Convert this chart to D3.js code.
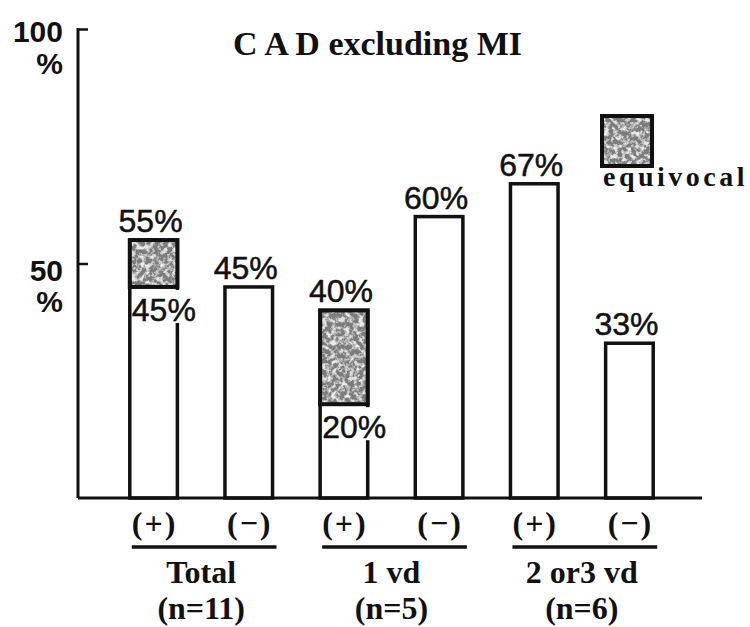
<!DOCTYPE html>
<html>
<head>
<meta charset="utf-8">
<script src="https://cdn.jsdelivr.net/npm/d3@7"></script>
<style>
body { margin: 0; background: #fff; }
svg { display: block; }
.pct { font-family: "Liberation Sans", Arial, sans-serif; font-size: 32px; fill: #111; stroke: #111; stroke-width: 0.5px; }
.serif { font-family: "Liberation Serif", "DejaVu Serif", serif; font-weight: bold; fill: #111; }
</style>
</head>
<body>
<script>
// data
var groups = ["Total", "1 vd", "2 or3 vd"];
var groupN = ["(n=11)", "(n=5)", "(n=6)"];
var signs = ["(+)", "(\u2212)"];
var positive = [45, 20, 67];   // (+) firm part
var equivocal = [10, 20, 0];   // (+) equivocal part on top
var negative = [45, 60, 33];   // (-)
var yTicks = [50, 100];

var width = 750, height = 627;
var svg = d3.select("body").append("svg").attr("width", width).attr("height", height);

// speckled fill for equivocal
var defs = svg.append("defs");
var filt = defs.append("filter").attr("id", "grain").attr("x", 0).attr("y", 0).attr("width", 1).attr("height", 1);
filt.append("feTurbulence").attr("type", "fractalNoise").attr("baseFrequency", 0.22).attr("numOctaves", 3).attr("seed", 7).attr("result", "n");
filt.append("feColorMatrix").attr("in", "n").attr("type", "matrix")
    .attr("values", "0 0 0 0 0.2  0 0 0 0 0.2  0 0 0 0 0.2  -3.5 0 0 0 2.5")
    .attr("result", "dark");
filt.append("feFlood").attr("flood-color", "#ececec").attr("result", "bg");
filt.append("feComposite").attr("in", "dark").attr("in2", "bg").attr("operator", "over");

var bars = [];
groups.forEach(function(g, i){
    bars.push({key: g + "+", group: i, sign: 0, base: positive[i], eq: equivocal[i]});
    bars.push({key: g + "-", group: i, sign: 1, base: negative[i], eq: 0});
});

var x = d3.scaleBand().domain(bars.map(function(d){return d.key;}))
    .range([106, 677]).paddingInner(0.5).paddingOuter(0.25);
var y = d3.scaleLinear().domain([0, 100]).range([498, 29]);
var x0 = 78, bw = x.bandwidth();

// y axis
var yAxis = d3.axisLeft(y).tickValues(yTicks).tickSizeInner(-10).tickSizeOuter(0).tickFormat("");
var gY = svg.append("g").attr("transform", "translate(" + x0 + ",0)").call(yAxis);
gY.select(".domain").remove();
gY.selectAll(".tick line").attr("stroke", "#111").attr("stroke-width", 2.5);
svg.append("line").attr("x1", x0).attr("x2", x0).attr("y1", y(100) - 1).attr("y2", y(0))
    .attr("stroke", "#111").attr("stroke-width", 3);

var tickLab = svg.append("g").selectAll("text").data(yTicks).enter().append("text")
    .attr("class", "pct").attr("text-anchor", "end").style("font-size", "30px").style("font-weight", "bold")
    .style("stroke-width", "0px");
tickLab.append("tspan").attr("x", 63).attr("y", function(d){return y(d) + (d == 100 ? 13 : 17);}).text(function(d){return d;});
tickLab.append("tspan").attr("x", 63).attr("y", function(d){return y(d) + (d == 100 ? 45 : 48);}).text("%");

// bars
var gBars = svg.append("g");
gBars.selectAll("rect.main").data(bars).enter().append("rect")
    .attr("class", "main")
    .attr("x", function(d){return x(d.key);})
    .attr("y", function(d){return y(d.base + d.eq);})
    .attr("width", bw)
    .attr("height", function(d){return y(0) - y(d.base + d.eq);})
    .attr("fill", "#fff").attr("stroke", "#111").attr("stroke-width", 3.5);

var eqBars = bars.filter(function(d){return d.eq > 0;});
gBars.selectAll("rect.eq").data(eqBars).enter().append("rect")
    .attr("class", "eq")
    .attr("x", function(d){return x(d.key);})
    .attr("y", function(d){return y(d.base + d.eq);})
    .attr("width", bw)
    .attr("height", function(d){return y(d.base) - y(d.base + d.eq);})
    .attr("fill", "#666").attr("filter", "url(#grain)");
gBars.selectAll("rect.eqb").data(eqBars).enter().append("rect")
    .attr("class", "eqb")
    .attr("x", function(d){return x(d.key);})
    .attr("y", function(d){return y(d.base + d.eq);})
    .attr("width", bw)
    .attr("height", function(d){return y(d.base) - y(d.base + d.eq);})
    .attr("fill", "none").attr("stroke", "#111").attr("stroke-width", 4);

// top labels
svg.append("g").selectAll("text").data(bars).enter().append("text")
    .attr("class", "pct").attr("text-anchor", "middle")
    .attr("x", function(d){return x(d.key) + bw / 2 - 3;})
    .attr("y", function(d){return y(d.base + d.eq) - 8;})
    .text(function(d){return (d.base + d.eq) + "%";});

// inner labels under equivocal part, on white so they cut the right edge
var inner = svg.append("g").selectAll("g").data(eqBars).enter().append("g");
inner.append("rect")
    .attr("x", function(d){return x(d.key) + 3;})
    .attr("y", function(d){return y(d.base) + 3;})
    .attr("width", 66).attr("height", 33).attr("fill", "#fff");
inner.append("text").attr("class", "pct")
    .attr("x", function(d){return x(d.key) + 2;})
    .attr("y", function(d){return y(d.base) + 34;})
    .text(function(d){return d.base + "%";});

// baseline
svg.append("line").attr("x1", x0).attr("x2", 702).attr("y1", y(0)).attr("y2", y(0))
    .attr("stroke", "#111").attr("stroke-width", 3);

// sign labels
svg.append("g").selectAll("text").data(bars).enter().append("text")
    .attr("class", "serif").attr("text-anchor", "middle").style("font-size", "32px")
    .style("letter-spacing", "2px")
    .attr("x", function(d){return x(d.key) + bw / 2 + 1;})
    .attr("y", 534)
    .text(function(d){return signs[d.sign];});

// group underline + names
var gg = svg.append("g").selectAll("g").data(groups).enter().append("g");
gg.append("line")
    .attr("x1", function(d, i){return x(bars[2 * i].key) + 2;})
    .attr("x2", function(d, i){return x(bars[2 * i + 1].key) + bw + 4;})
    .attr("y1", 547).attr("y2", 547)
    .attr("stroke", "#111").attr("stroke-width", 3.5);
function gMid(i){ return (x(bars[2 * i].key) + x(bars[2 * i + 1].key) + bw) / 2; }
gg.append("text").attr("class", "serif").attr("text-anchor", "middle").style("font-size", "32px")
    .attr("x", function(d, i){return gMid(i);}).attr("y", 583)
    .text(function(d){return d;});
gg.append("text").attr("class", "serif").attr("text-anchor", "middle").style("font-size", "32px")
    .attr("x", function(d, i){return gMid(i);}).attr("y", 619)
    .text(function(d, i){return groupN[i];});

// title
svg.append("text").attr("class", "serif").attr("x", 233).attr("y", 55).style("font-size", "34px")
    .text("C A D excluding  MI");

// legend
svg.append("rect").attr("x", 602).attr("y", 116).attr("width", 50).attr("height", 50)
    .attr("fill", "#666").attr("filter", "url(#grain)");
svg.append("rect").attr("x", 602).attr("y", 116).attr("width", 50).attr("height", 50)
    .attr("fill", "none").attr("stroke", "#111").attr("stroke-width", 4);
svg.append("text").attr("class", "serif").attr("x", 603).attr("y", 186).style("font-size", "28px")
    .style("letter-spacing", "3.5px")
    .text("equivocal");
</script>
</body>
</html>
